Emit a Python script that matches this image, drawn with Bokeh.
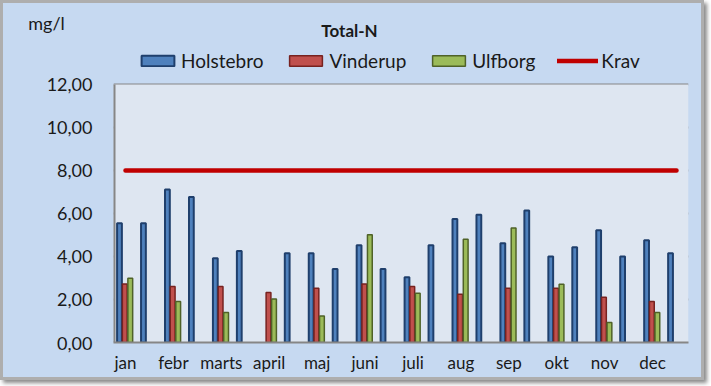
from bokeh.plotting import figure
from bokeh.models import (Range1d, FixedTicker, Legend, LegendItem, Label, BoxAnnotation,
                          ColumnDataSource)
from bokeh.embed import file_html
from bokeh.resources import INLINE

# ---------------- data ----------------
months = ["jan", "febr", "marts", "april", "maj", "juni",
          "juli", "aug", "sep", "okt", "nov", "dec"]
# Holstebro: two samples per month
holstebro = [5.55, 5.55, 7.12, 6.77, 3.92, 4.25, None, 4.15, 4.15, 3.42, 4.52, 3.42,
             3.03, 4.52, 5.74, 5.94, 4.62, 6.14, 4.00, 4.43, 5.22, 4.00, 4.76, 4.15]
# Vinderup / Ulfborg: one sample per month
vinderup = [2.72, 2.61, 2.61, 2.33, 2.52, 2.72, 2.61, 2.24, 2.52, 2.52, 2.10, 1.91]
ulfborg = [2.99, 1.91, 1.40, 2.02, 1.23, 5.01, 2.29, 4.80, 5.32, 2.71, 0.93, 1.40]
krav = [8.0] * 24
y_ticks = [0, 2, 4, 6, 8, 10, 12]
y_labels = ["0,00", "2,00", "4,00", "6,00", "8,00", "10,00", "12,00"]
y_max = 12
unit = "mg/l"
title = "Total-N"

FONT = "Lato"
TXT = "#1a1a1a"
n_cat = len(holstebro)
cat_center = [i + 0.5 for i in range(n_cat)]
off_h, off_v, off_u = -0.25, -0.03, 0.2
bw = 0.2
top_space = 3.72          # room above the value axis for title / legend (data units)
unit_pos = 14.88
NBSP = "\u00a0"

src_h = ColumnDataSource(dict(x=[c + off_h for c in cat_center],
                              top=[float("nan") if v is None else v for v in holstebro]))
src_v = ColumnDataSource(dict(x=[cat_center[2 * i] + off_v for i in range(len(vinderup))],
                              top=vinderup))
src_u = ColumnDataSource(dict(x=[cat_center[2 * i] + off_u for i in range(len(ulfborg))],
                              top=ulfborg))
src_k = ColumnDataSource(dict(x=cat_center, y=krav))

p = figure(width=704, height=380, output_backend="svg", toolbar_location=None, title=None,
           x_range=Range1d(0, n_cat), y_range=Range1d(0, y_max + top_space),
           min_border_left=113, min_border_right=16, min_border_top=4, min_border_bottom=38)
p.styles = {"background-color": "#c6d9f1",
            "box-shadow": "inset 0 0 0 3px #aeaeae, 3px 3px 4px #8a8a8a"}

p.background_fill_color = None
p.border_fill_color = None
p.outline_line_color = None

# plot area background
p.add_layout(BoxAnnotation(bottom=0, top=y_max, fill_color="#dee6f1", fill_alpha=1,
                           line_color=None, level="underlay"))
# value axis line (only over the plot area)
p.segment(x0=[0], y0=[0], x1=[0], y1=[y_max], line_color="#868686", line_width=4)

r_h = p.vbar(x="x", top="top", width=bw, source=src_h, fill_color="#4f81bd",
             line_color="#1f3f6c", line_width=2)
r_v = p.vbar(x="x", top="top", width=bw, source=src_v, fill_color="#c0504d",
             line_color="#772220", line_width=1.5)
r_u = p.vbar(x="x", top="top", width=bw, source=src_u, fill_color="#9bbb59",
             line_color="#4f6228", line_width=1.5)
r_k = p.line(x="x", y="y", source=src_k, line_color="#c00000", line_width=4.5,
             line_cap="round")

# axes
p.xaxis.ticker = FixedTicker(ticks=[cat_center[2 * i] for i in range(len(months))])
p.xaxis.major_label_overrides = {cat_center[2 * i]: m for i, m in enumerate(months)}
p.xaxis.major_tick_line_color = None
p.xaxis.minor_tick_line_color = None
p.xaxis.major_tick_out = 0
p.xaxis.major_tick_in = 0
p.xaxis.axis_line_color = "#868686"
p.xaxis.axis_line_width = 2
p.xaxis.major_label_standoff = 9
p.xaxis.major_label_text_font = FONT
p.xaxis.major_label_text_font_size = "17px"
p.xaxis.major_label_text_color = TXT

p.yaxis.ticker = FixedTicker(ticks=y_ticks + [unit_pos])
overrides = {t: l for t, l in zip(y_ticks, y_labels)}
overrides[unit_pos] = unit + NBSP * 6
p.yaxis.major_label_overrides = overrides
p.yaxis.major_tick_line_color = None
p.yaxis.minor_tick_line_color = None
p.yaxis.major_tick_out = 0
p.yaxis.major_tick_in = 0
p.yaxis.axis_line_color = None
p.yaxis.major_label_standoff = 21
p.yaxis.major_label_text_font = FONT
p.yaxis.major_label_text_font_size = "18px"
p.yaxis.major_label_text_color = TXT

p.xgrid.grid_line_color = None
p.ygrid.ticker = FixedTicker(ticks=y_ticks)
p.ygrid.grid_line_color = "#868686"
p.ygrid.grid_line_width = 2

p.add_layout(Label(x=9.85, y=14.51, text=title, text_font=FONT, text_font_size="17px",
                   text_font_style="bold", text_align="center", text_baseline="middle",
                   text_color=TXT))

legend = Legend(items=[LegendItem(label="Holstebro", renderers=[r_h]),
                       LegendItem(label="Vinderup", renderers=[r_v]),
                       LegendItem(label="Ulfborg", renderers=[r_u]),
                       LegendItem(label="Krav", renderers=[r_k])],
                orientation="horizontal", location=(24, 270),
                glyph_width=41, glyph_height=13, label_standoff=3, spacing=22,
                padding=0, margin=0, border_line_color=None, background_fill_alpha=0,
                label_text_font=FONT, label_text_font_size="19px",
                label_text_color=TXT, label_height=20)
p.add_layout(legend, "center")

open("out.html", "w").write(file_html(p, INLINE))
